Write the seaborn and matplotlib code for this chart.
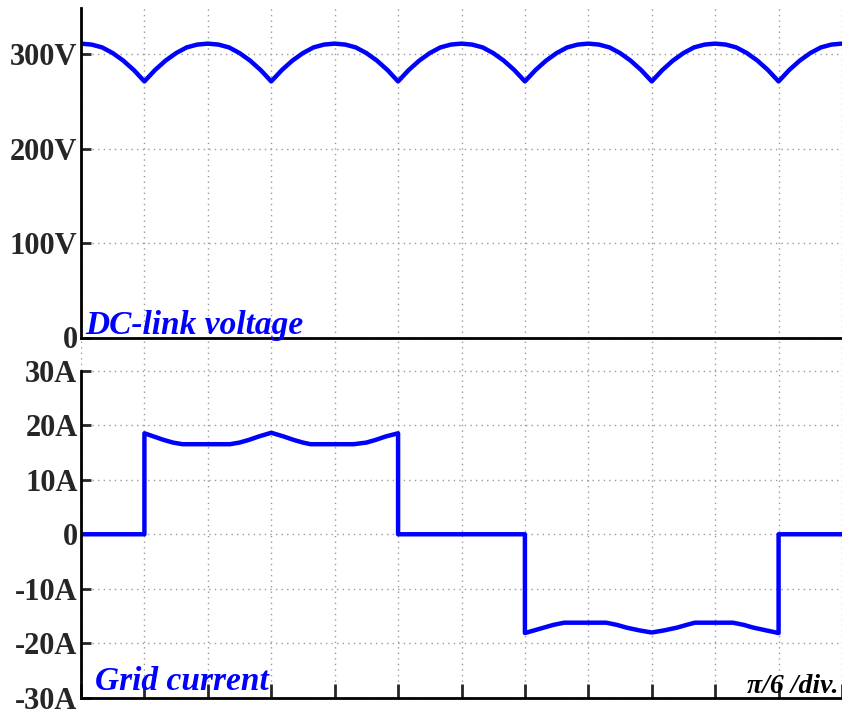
import matplotlib
matplotlib.use("Agg")
import matplotlib.pyplot as plt
import numpy as np
import pandas as pd
import seaborn as sns

# Time axis in divisions (pi/6 per division)
volt_x = [i / 6 for i in range(73)]
# DC-link voltage (V), six-pulse ripple
volt_v = [
    311, 310, 307, 301, 293, 283, 271, 283, 293, 301, 307, 310,
    311, 310, 307, 301, 293, 283, 271, 283, 293, 301, 307, 310,
    311, 310, 307, 301, 293, 283, 271, 283, 293, 301, 307, 310,
    311, 310, 307, 301, 293, 283, 271, 283, 293, 301, 307, 310,
    311, 310, 307, 301, 293, 283, 271, 283, 293, 301, 307, 310,
    311, 310, 307, 301, 293, 283, 271, 283, 293, 301, 307, 310,
    311,
]

# Grid current (A)
cur_x = [0, 1, 1, 1.15, 1.3, 1.45, 1.6, 2.35, 2.5, 2.65, 2.8, 3.0,
         3.2, 3.35, 3.5, 3.62, 4.3, 4.5, 4.65, 4.8, 5.0, 5.0,
         7.0, 7.0, 7.15, 7.3, 7.45, 7.62, 8.28, 8.45, 8.6, 8.8, 9.0,
         9.2, 9.4, 9.55, 9.68, 10.28, 10.45, 10.6, 10.8, 11.0, 11.0, 12.0]
cur_i = [0, 0, 18.5, 17.9, 17.3, 16.8, 16.5, 16.5, 16.8, 17.3, 17.9, 18.6,
         17.9, 17.3, 16.8, 16.5, 16.5, 16.8, 17.3, 17.9, 18.5, 0,
         0, -18.1, -17.6, -17.1, -16.6, -16.2, -16.2, -16.6, -17.1, -17.6, -18.0,
         -17.6, -17.1, -16.6, -16.2, -16.2, -16.6, -17.1, -17.6, -18.1, 0, 0]

volt_ticks = [0, 100, 200, 300]
volt_labels = ["0", "100V", "200V", "300V"]
cur_ticks = [-30, -20, -10, 0, 10, 20, 30]
cur_labels = ["-30A", "-20A", "-10A", "0", "10A", "20A", "30A"]

sns.set_theme(style="ticks")
plt.rcParams["font.family"] = ["Liberation Serif", "DejaVu Serif"]
plt.rcParams["font.weight"] = "bold"

W, H = 842, 716
fig = plt.figure(figsize=(W / 100, H / 100), dpi=100)

def frac(x0, y_top, x1, y_bot):
    return [x0 / W, 1 - y_bot / H, (x1 - x0) / W, (y_bot - y_top) / H]

ax_v = fig.add_axes(frac(81, 8, 842, 337.5))
ax_i = fig.add_axes(frac(81, 337.5, 842, 698))

blue = "#0000ff"
grid_kw = dict(color="#9a9a9a", linestyle=(0, (1, 3)), linewidth=1.0)

df_v = pd.DataFrame({"div": volt_x, "V": volt_v})
df_i = pd.DataFrame({"div": cur_x, "I": cur_i})

sns.lineplot(data=df_v, x="div", y="V", ax=ax_v, color=blue, linewidth=3.2,
             sort=False, estimator=None)
sns.lineplot(data=df_i, x="div", y="I", ax=ax_i, color=blue, linewidth=3.2,
             sort=False, estimator=None)

divs = list(range(0, 13))

for ax in (ax_v, ax_i):
    ax.set_xlim(0, 12)
    ax.set_xlabel("")
    ax.set_ylabel("")
    ax.spines["top"].set_visible(False)
    ax.spines["right"].set_visible(False)
    for s in ("left", "bottom"):
        ax.spines[s].set_linewidth(2.0)
        ax.spines[s].set_color("black")
    ax.set_facecolor("none")
    ax.set_xticks(divs)
    ax.set_xticklabels([])
    ax.xaxis.grid(True, **grid_kw)
    ax.yaxis.grid(True, **grid_kw)
    ax.set_axisbelow(True)

# Voltage panel
ax_v.set_ylim(0, 348.7)
ax_v.set_yticks(volt_ticks)
ax_v.set_yticklabels(volt_labels, fontsize=22, fontweight="bold")
ax_v.tick_params(axis="y", direction="in", length=7, width=2, pad=2.5)
ax_v.tick_params(axis="x", length=0)
ax_v.text(0.06, 4, "DC-link voltage", color=blue, fontsize=24,
          fontstyle="italic", fontweight="bold", va="baseline", ha="left")

# Current panel
ax_i.set_ylim(-30, 36.05)
ax_i.spines["left"].set_bounds(-30, 30)
ax_i.set_yticks(cur_ticks)
ax_i.set_yticklabels(cur_labels, fontsize=22, fontweight="bold")
ax_i.tick_params(axis="y", direction="in", length=7, width=2, pad=2.5)
ax_i.tick_params(axis="x", direction="in", length=10, width=2)
ax_i.text(0.22, -28.6, "Grid current", color=blue, fontsize=24,
          fontstyle="italic", fontweight="bold", va="baseline", ha="left")
ax_i.text(11.95, -29.0, "π/6 /div.", color="black", fontsize=20,
          fontstyle="italic", fontweight="bold", va="baseline", ha="right")

fig.savefig("out.png", dpi=100)
